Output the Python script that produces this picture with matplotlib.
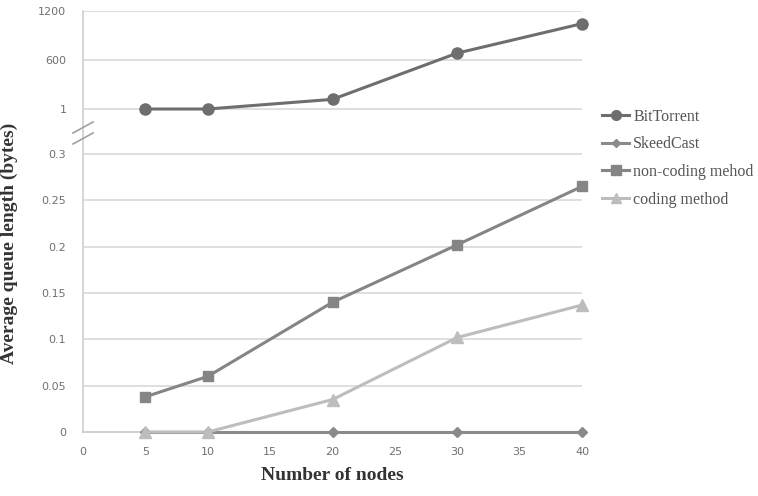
import numpy as np
import matplotlib
matplotlib.use("Agg")
import matplotlib.pyplot as plt
from matplotlib.lines import Line2D

nodes = [5, 10, 20, 30, 40]
bittorrent = [1, 1, 119, 685, 1045]
skeedcast = [0, 0, 0, 0, 0]
non_coding = [0.038, 0.06, 0.14, 0.202, 0.265]
coding = [0.0, 0.0, 0.035, 0.102, 0.137]

xticks = [0, 5, 10, 15, 20, 25, 30, 35, 40]
yticks = [0, 0.05, 0.1, 0.15, 0.2, 0.25, 0.3, 1, 600, 1200]
ytick_labels = ["0", "0.05", "0.1", "0.15", "0.2", "0.25", "0.3", "1", "600", "1200"]

# broken axis mapping (value -> screen units)
_vals = [0, 0.3, 1, 1200]
_pos = [0, 278, 323, 421]

def fwd(v):
    return np.interp(v, _vals, _pos)

def inv(p):
    return np.interp(p, _pos, _vals)

fig = plt.figure(figsize=(7.58, 4.96), dpi=100)
ax = fig.add_axes([83 / 758, 1 - 432 / 496, (582 - 83) / 758, (432 - 11) / 496])
ax.set_yscale("function", functions=(fwd, inv))
ax.set_ylim(0, 1200)
ax.set_xlim(0, 40)

ax.set_yticks(yticks)
ax.set_yticklabels(ytick_labels)
ax.set_xticks(xticks)
ax.yaxis.set_minor_locator(matplotlib.ticker.NullLocator())
ax.xaxis.set_minor_locator(matplotlib.ticker.NullLocator())

for t in yticks[1:]:
    ax.axhline(t, color="#d9d9d9", lw=1.2, zorder=0)

for s in ["top", "right"]:
    ax.spines[s].set_visible(False)
ax.spines["left"].set_color("#d0d0d0")
ax.spines["bottom"].set_color("#c8c8c8")
ax.spines["left"].set_linewidth(1.2)
ax.spines["bottom"].set_linewidth(1.2)
ax.tick_params(length=0, labelsize=8, colors="#707070", pad=12)
ax.tick_params(axis="x", pad=11)

c_bt = "#6e6e6e"
c_sk = "#8a8a8a"
c_nc = "#858585"
c_co = "#bdbdbd"

ax.plot(nodes, skeedcast, color=c_sk, lw=2.2, marker="D", ms=5, clip_on=False, zorder=3)
ax.plot(nodes, coding, color=c_co, lw=2.2, marker="^", ms=8, clip_on=False, zorder=4)
ax.plot(nodes, non_coding, color=c_nc, lw=2.2, marker="s", ms=7, clip_on=False, zorder=5)
ax.plot(nodes, bittorrent, color=c_bt, lw=2.2, marker="o", ms=8, clip_on=False, zorder=5)

# break marks
for y0 in (133, 144):
    fig.add_artist(Line2D([73 / 758, 93 / 758], [1 - y0 / 496, 1 - (y0 - 11) / 496],
                          color="#a0a0a0", lw=1.2))

serif = ["Liberation Serif", "DejaVu Serif"]
ax.set_xlabel("Number of nodes", fontfamily=serif, fontweight="bold", fontsize=14,
              color="#333333", labelpad=7)
ax.set_ylabel("Average queue length (bytes)", fontfamily=serif, fontweight="bold",
              fontsize=14, color="#333333")
ax.yaxis.set_label_coords(18 / 758, 1 - 243 / 496, transform=fig.transFigure)

handles = [
    Line2D([], [], color=c_bt, lw=2.2, marker="o", ms=7),
    Line2D([], [], color=c_sk, lw=2.2, marker="D", ms=4),
    Line2D([], [], color=c_nc, lw=2.2, marker="s", ms=7),
    Line2D([], [], color=c_co, lw=2.2, marker="^", ms=7),
]
labels = ["BitTorrent", "SkeedCast", "non-coding mehod", "coding method"]
leg = fig.legend(handles, labels, loc="upper left", bbox_to_anchor=(602 / 758, 1 - 109 / 496),
                 frameon=False, prop={"family": serif, "size": 11.5}, handlelength=1.7,
                 handletextpad=0.25, labelspacing=0.72, borderaxespad=0, borderpad=0)
for t in leg.get_texts():
    t.set_color("#555555")

fig.savefig("out.png", dpi=100)
